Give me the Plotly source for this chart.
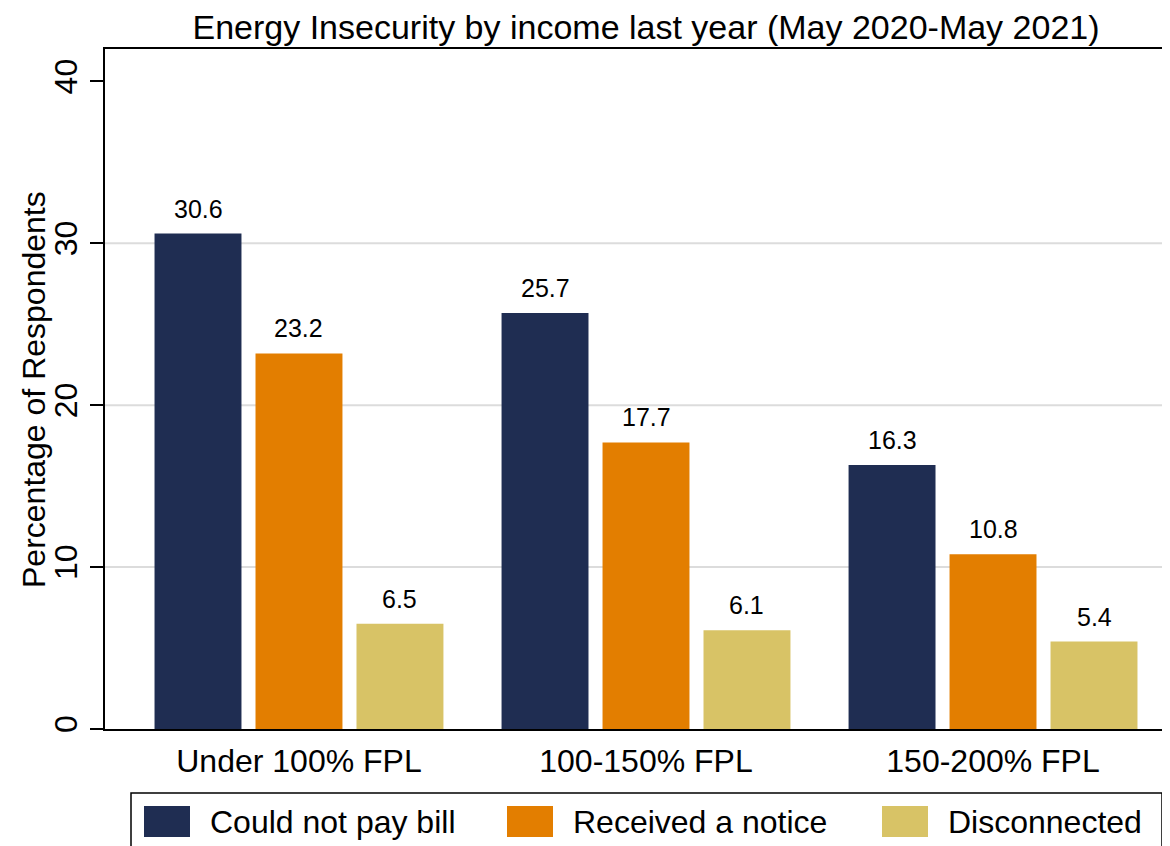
import plotly.graph_objects as go

# data
groups = ["Under 100% FPL", "100-150% FPL", "150-200% FPL"]
could_not_pay = [30.6, 25.7, 16.3]
received_notice = [23.2, 17.7, 10.8]
disconnected = [6.5, 6.1, 5.4]

series_names = ["Could not pay bill", "Received a notice", "Disconnected"]
series_values = [could_not_pay, received_notice, disconnected]
colors = ["#1f2d52", "#e37e00", "#d8c366"]

FONT = "Liberation Sans, Arial, sans-serif"
W, H = 1170, 846
OFF = 8  # page body margin shifts the figure by this much
L, R, T, B = 105 - OFF, OFF, 49 - OFF, 117 + OFF
BARGAP, GROUPGAP = 0.127, 0.139


def px_x(px):
    # screen pixel -> paper x
    return (px - OFF - L) / (W - L - R)


def px_y(py):
    # screen pixel -> paper y
    return (H - B - (py - OFF)) / (H - T - B)


xpos = list(range(len(groups)))
slot = (1 - BARGAP) / len(series_names)

fig = go.Figure()
annotations = []
for k, (name, vals, col) in enumerate(zip(series_names, series_values, colors)):
    fig.add_trace(go.Bar(x=xpos, y=vals, name=name,
                         marker_color=col, marker_line_width=0,
                         showlegend=False))
    for i, v in zip(xpos, vals):
        annotations.append(dict(text=f"{v:.1f}", x=i + (k - 1) * slot, y=v,
                                xref="x", yref="y", showarrow=False,
                                yanchor="middle", yshift=25,
                                font=dict(size=25, color="black", family=FONT)))

# y axis title, placed by hand
annotations.append(dict(text="Percentage of Respondents", xref="paper",
                        yref="paper", x=px_x(34), y=px_y(390),
                        xanchor="center", yanchor="middle", textangle=-90,
                        showarrow=False,
                        font=dict(size=32, color="black", family=FONT)))

# light grid lines at 10, 20, 30 only
shapes = []
for g in [10, 20, 30]:
    shapes.append(dict(type="line", xref="paper", yref="y", x0=0, x1=1,
                       y0=g, y1=g, line=dict(color="#dcdcdc", width=2),
                       layer="below"))

# hand-made legend box like the Stata one
shapes.append(dict(type="rect", xref="paper", yref="paper",
                   x0=px_x(131), x1=px_x(1162), y0=px_y(793), y1=px_y(880),
                   line=dict(color="black", width=1.5), fillcolor="white"))
swatch_x = [144, 507, 882]
for sx, name, col in zip(swatch_x, series_names, colors):
    shapes.append(dict(type="rect", xref="paper", yref="paper",
                       x0=px_x(sx), x1=px_x(sx + 46),
                       y0=px_y(837), y1=px_y(806),
                       line=dict(width=0), fillcolor=col))
    annotations.append(dict(text=name, xref="paper", yref="paper",
                            x=px_x(sx + 64), y=px_y(822),
                            xanchor="left", yanchor="middle", showarrow=False,
                            font=dict(size=32, color="black", family=FONT)))

fig.update_layout(
    width=W, height=H,
    margin=dict(l=L, r=R, t=T, b=B),
    paper_bgcolor="white", plot_bgcolor="white",
    font=dict(family=FONT, color="black", size=32),
    title=dict(text="Energy Insecurity by income last year (May 2020-May 2021)",
               xref="paper", x=px_x(646), xanchor="center",
               yref="container", y=1 - 19 / H, yanchor="middle",
               font=dict(size=34, color="black", family=FONT)),
    barmode="group", bargap=BARGAP, bargroupgap=GROUPGAP,
    shapes=shapes, annotations=annotations,
)

fig.update_xaxes(range=[-0.559, 2.510], tickvals=xpos, ticktext=groups,
                 showline=True, linecolor="black", linewidth=2, mirror=True,
                 ticks="", showgrid=False, zeroline=False,
                 tickfont=dict(size=32), ticklabelstandoff=3)
fig.update_yaxes(range=[0, 42], tickvals=[0, 10, 20, 30, 40], showgrid=False,
                 zeroline=False, showline=True, linecolor="black", linewidth=2,
                 ticks="outside", ticklen=13, tickwidth=2, tickcolor="black",
                 tickangle=-90, tickfont=dict(size=32), ticklabelstandoff=0)

fig.write_html("out.html")
